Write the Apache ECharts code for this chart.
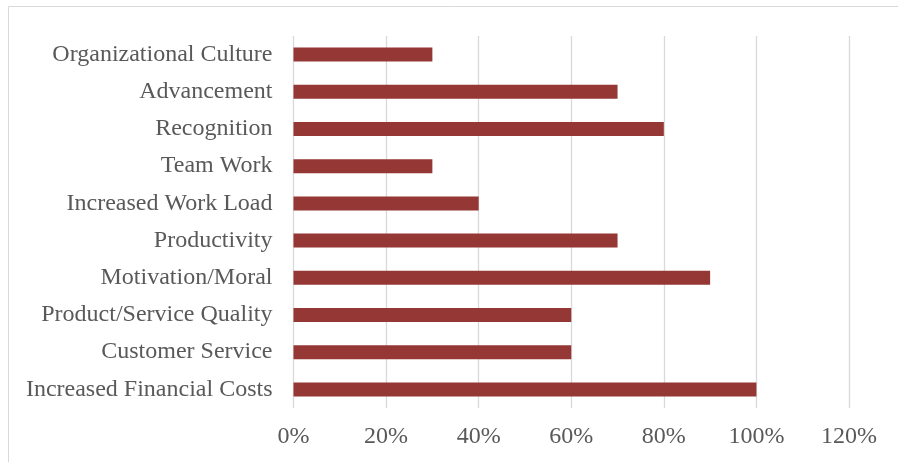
<!DOCTYPE html>
<html>
<head>
<meta charset="utf-8">
<script src="https://cdn.jsdelivr.net/npm/echarts@6/dist/echarts.min.js"></script>
<style>
  html, body { margin: 0; padding: 0; background: #ffffff; }
  #chart { width: 898px; height: 462px; }
</style>
</head>
<body>
<div id="chart"></div>
<script>
// Factors, listed top to bottom
const categories = [
  'Organizational Culture',
  'Advancement',
  'Recognition',
  'Team Work',
  'Increased Work Load',
  'Productivity',
  'Motivation/Moral',
  'Product/Service Quality',
  'Customer Service',
  'Increased Financial Costs'
];
// Share of respondents, percent
const values = [30, 70, 80, 30, 40, 70, 90, 60, 60, 100];
// Value axis range and step, percent
const axisMin = 0;
const axisMax = 120;
const axisStep = 20;

const chart = echarts.init(document.getElementById('chart'), null, { renderer: 'canvas' });
const font = '"Liberation Serif", "Times New Roman", serif';

chart.setOption({
  animation: false,
  backgroundColor: '#ffffff',
  graphic: [{
    type: 'rect',
    shape: { x: 8.5, y: 6.5, width: 1000, height: 1000 },
    style: { fill: 'none', stroke: '#d9d9d9', lineWidth: 1 },
    silent: true
  }],
  grid: { left: 293.5, right: 49, top: 36, bottom: 54, containLabel: false },
  xAxis: {
    type: 'value',
    min: axisMin,
    max: axisMax,
    interval: axisStep,
    axisLine: { show: false },
    axisTick: { show: false },
    splitLine: { show: true, lineStyle: { color: '#d9d9d9', width: 1.3 } },
    axisLabel: {
      formatter: v => v + '%',
      color: '#595959',
      fontFamily: font,
      fontSize: 24,
      margin: 17
    }
  },
  yAxis: {
    type: 'category',
    inverse: true,
    data: categories,
    axisLine: { show: false },
    axisTick: { show: false },
    axisLabel: {
      color: '#595959',
      fontFamily: font,
      fontSize: 24,
      margin: 21
    }
  },
  series: [{
    type: 'bar',
    data: values,
    barWidth: 14,
    itemStyle: { color: '#953735' }
  }]
});
</script>
</body>
</html>
